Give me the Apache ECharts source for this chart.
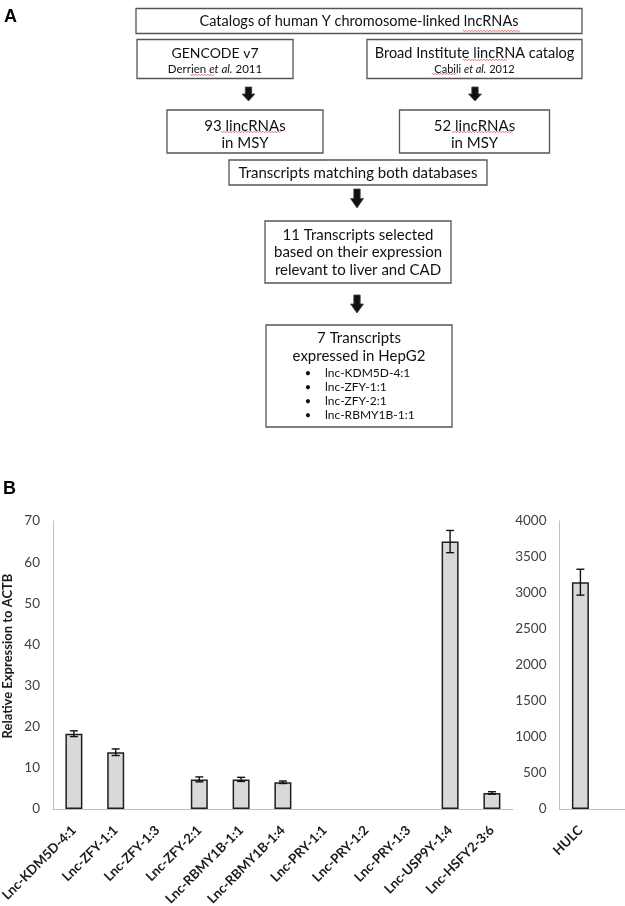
<!DOCTYPE html>
<html>
<head>
<meta charset="utf-8">
<script src="https://cdn.jsdelivr.net/npm/echarts@6/dist/echarts.min.js"></script>
<style>
html,body{margin:0;padding:0;background:#fff;}
#chart{width:625px;height:906px;}
</style>
</head>
<body>
<div id="chart"></div>
<script>
// ---------- Panel B data ----------
const categories = ['Lnc-KDM5D-4:1','Lnc-ZFY-1:1','Lnc-ZFY-1:3','Lnc-ZFY-2:1','Lnc-RBMY1B-1:1','Lnc-RBMY1B-1:4','Lnc-PRY-1:1','Lnc-PRY-1:2','Lnc-PRY-1:3','Lnc-USP9Y-1:4','Lnc-HSFY2-3:6'];
const values = [18.3, 13.8, null, 7.2, 7.2, 6.5, null, null, null, 65.0, 3.9];
const errors = [0.7, 0.8, null, 0.6, 0.5, 0.3, null, null, null, 2.7, 0.3];
const hulcCategories = ['HULC', ''];
const hulcValues = [3150, null];
const hulcErrors = [180, null];
const leftTicks = {min: 0, max: 70, interval: 10};
const rightTicks = {min: 0, max: 4000, interval: 500};
const yAxisTitle = 'Relative Expression to ACTB';

// ---------- Panel A texts ----------
const flowTitle = 'Catalogs of human Y chromosome-linked lncRNAs';
const gencodeLines = ['GENCODE v7', 'Derrien {i|et al.} 2011'];
const broadLines = ['Broad Institute lincRNA catalog', 'Cabili {i|et al.} 2012'];
const msy93Lines = ['93 lincRNAs', 'in MSY'];
const msy52Lines = ['52 lincRNAs', 'in MSY'];
const matchingText = 'Transcripts matching both databases';
const selectedLines = ['11 Transcripts selected', 'based on their expression', 'relevant to liver and CAD'];
const hepg2Lines = ['7 Transcripts', 'expressed in HepG2'];
const hepg2Bullets = ['lnc-KDM5D-4:1', 'lnc-ZFY-1:1', 'lnc-ZFY-2:1', 'lnc-RBMY1B-1:1'];

const FONT = 'Lato, "Open Sans", "Liberation Sans", sans-serif';
const TXT = '#111111';
const BOX = '#555555';

function box(x, y, w, h) {
  return {type: 'rect', shape: {x: x, y: y, width: w, height: h},
    style: {fill: '#fff', stroke: BOX, lineWidth: 1.3}, z: 1};
}
function txt(t, x, y, size, extra) {
  return Object.assign({type: 'text', z: 3, style: {
    text: t, x: x, y: y, align: 'center', verticalAlign: 'middle',
    font: size + 'px ' + FONT, fill: TXT,
    rich: {i: {fontStyle: 'italic', fontSize: size, fontFamily: FONT, fill: TXT}}
  }}, extra || {});
}
function arrow(cx, y0, y1) {
  const hw = 6.5, sw = 3.2, hy = y0 + (y1 - y0) * 0.5;
  return {type: 'polygon', z: 2, shape: {points: [
    [cx - sw, y0], [cx + sw, y0], [cx + sw, hy], [cx + hw, hy], [cx, y1], [cx - hw, hy], [cx - sw, hy]
  ]}, style: {fill: '#111', stroke: '#444', lineWidth: 0.8}};
}
function squiggle(x0, x1, y) {
  const pts = [];
  let up = true;
  for (let x = x0; x <= x1; x += 1.5) { pts.push([x, y + (up ? -0.8 : 0.8)]); up = !up; }
  return {type: 'polyline', z: 4, shape: {points: pts}, style: {stroke: '#e05050', lineWidth: 0.8, fill: null}};
}

const graphics = [
  {type: 'text', z: 3, style: {text: 'A', x: 4, y: 8, font: 'bold 18px "Liberation Sans", Arial, sans-serif', fill: '#000'}},
  {type: 'text', z: 3, style: {text: 'B', x: 3, y: 480, font: 'bold 18px "Liberation Sans", Arial, sans-serif', fill: '#000'}},
  box(136, 8.5, 446, 25),
  txt(flowTitle, 359, 21.5, 14.5),
  box(137, 39.5, 156, 39),
  txt(gencodeLines[0], 215, 53.5, 14),
  txt(gencodeLines[1], 215, 69.5, 11.5),
  box(367, 39.5, 215, 39),
  txt(broadLines[0], 474.5, 53.5, 14.5),
  txt(broadLines[1], 474.5, 69.5, 11),
  arrow(248.5, 87, 101),
  arrow(475, 87, 101),
  box(167, 110, 156, 43),
  txt(msy93Lines[0], 245, 126, 15),
  txt(msy93Lines[1], 245, 143.5, 15),
  box(399.5, 110, 150, 43),
  txt(msy52Lines[0], 474.5, 126, 15),
  txt(msy52Lines[1], 474.5, 143.5, 15),
  box(229, 160, 258, 25),
  txt(matchingText, 358, 173, 15),
  arrow(357, 189, 208),
  box(265, 221, 186, 62),
  txt(selectedLines[0], 358, 235, 15),
  txt(selectedLines[1], 358, 252.5, 15),
  txt(selectedLines[2], 358, 270, 15),
  arrow(357, 295, 313),
  box(266, 325, 186, 102),
  txt(hepg2Lines[0], 359, 338.5, 15),
  txt(hepg2Lines[1], 359, 356, 15),
  squiggle(463, 520, 31),
  squiggle(190, 214, 75),
  squiggle(463, 507, 60),
  squiggle(432, 456, 74),
  squiggle(221, 281, 132),
  squiggle(452, 513, 132),
  {type: 'text', z: 3, rotation: Math.PI / 2, x: 8, y: 656, style: {
    text: yAxisTitle, x: 0, y: 0, align: 'center', verticalAlign: 'middle',
    font: 'bold 13px ' + FONT, fill: '#1a1a1a'}}
];
hepg2Bullets.forEach(function (b, i) {
  const y = 373 + i * 14;
  graphics.push({type: 'text', z: 3, style: {text: '•', x: 308, y: y, align: 'center', verticalAlign: 'middle', font: '11px ' + FONT, fill: TXT}});
  graphics.push({type: 'text', z: 3, style: {text: b, x: 325, y: y, align: 'left', verticalAlign: 'middle', font: '12px ' + FONT, fill: TXT}});
});

function errRender(params, api) {
  const x = api.value(0), v = api.value(1), e = api.value(2);
  const top = api.coord([x, v + e]);
  const bot = api.coord([x, v - e]);
  const hw = 4;
  const st = {stroke: '#111', lineWidth: 1.4};
  return {type: 'group', children: [
    {type: 'line', shape: {x1: top[0], y1: top[1], x2: bot[0], y2: bot[1]}, style: st},
    {type: 'line', shape: {x1: top[0] - hw, y1: top[1], x2: top[0] + hw, y2: top[1]}, style: st},
    {type: 'line', shape: {x1: bot[0] - hw, y1: bot[1], x2: bot[0] + hw, y2: bot[1]}, style: st}
  ]};
}
function errData(vals, errs) {
  const out = [];
  vals.forEach(function (v, i) { if (v != null) out.push([i, v, errs[i]]); });
  return out;
}

const axisLabelY = {fontSize: 13.5, color: '#404040', fontFamily: FONT, margin: 13, formatter: function (v) { return String(v); }};
const axisLabelX = {interval: 0, rotate: 45, fontSize: 13.2, fontWeight: 'bold', color: '#1a1a1a', fontFamily: FONT, margin: 19};
const barStyle = {color: '#d9d9d9', borderColor: '#1f1f1f', borderWidth: 1.5};

const option = {
  animation: false,
  backgroundColor: '#fff',
  graphic: graphics,
  grid: [
    {left: 53, top: 521, width: 459.8, height: 288, containLabel: false, outerBoundsMode: 'none'},
    {left: 559.5, top: 521, width: 83.6, height: 288, containLabel: false, outerBoundsMode: 'none'}
  ],
  xAxis: [
    {type: 'category', gridIndex: 0, data: categories, axisTick: {show: false},
      axisLine: {lineStyle: {color: '#bfbfbf', width: 1}}, axisLabel: axisLabelX},
    {type: 'category', gridIndex: 1, data: hulcCategories, axisTick: {show: false},
      axisLine: {lineStyle: {color: '#bfbfbf', width: 1}}, axisLabel: axisLabelX}
  ],
  yAxis: [
    {type: 'value', gridIndex: 0, min: leftTicks.min, max: leftTicks.max, interval: leftTicks.interval,
      axisLine: {show: true, lineStyle: {color: '#bfbfbf'}}, axisTick: {show: false}, splitLine: {show: false},
      axisLabel: axisLabelY},
    {type: 'value', gridIndex: 1, min: rightTicks.min, max: rightTicks.max, interval: rightTicks.interval,
      axisLine: {show: true, lineStyle: {color: '#bfbfbf'}}, axisTick: {show: false}, splitLine: {show: false},
      axisLabel: axisLabelY}
  ],
  series: [
    {type: 'bar', xAxisIndex: 0, yAxisIndex: 0, data: values, barWidth: 17, itemStyle: barStyle},
    {type: 'custom', xAxisIndex: 0, yAxisIndex: 0, data: errData(values, errors), renderItem: errRender, encode: {x: 0, y: 1}, z: 5},
    {type: 'bar', xAxisIndex: 1, yAxisIndex: 1, data: hulcValues, barWidth: 17, itemStyle: barStyle},
    {type: 'custom', xAxisIndex: 1, yAxisIndex: 1, data: errData(hulcValues, hulcErrors), renderItem: errRender, encode: {x: 0, y: 1}, z: 5}
  ]
};

const chart = echarts.init(document.getElementById('chart'), null, {renderer: 'canvas'});
chart.setOption(option);
</script>
</body>
</html>
